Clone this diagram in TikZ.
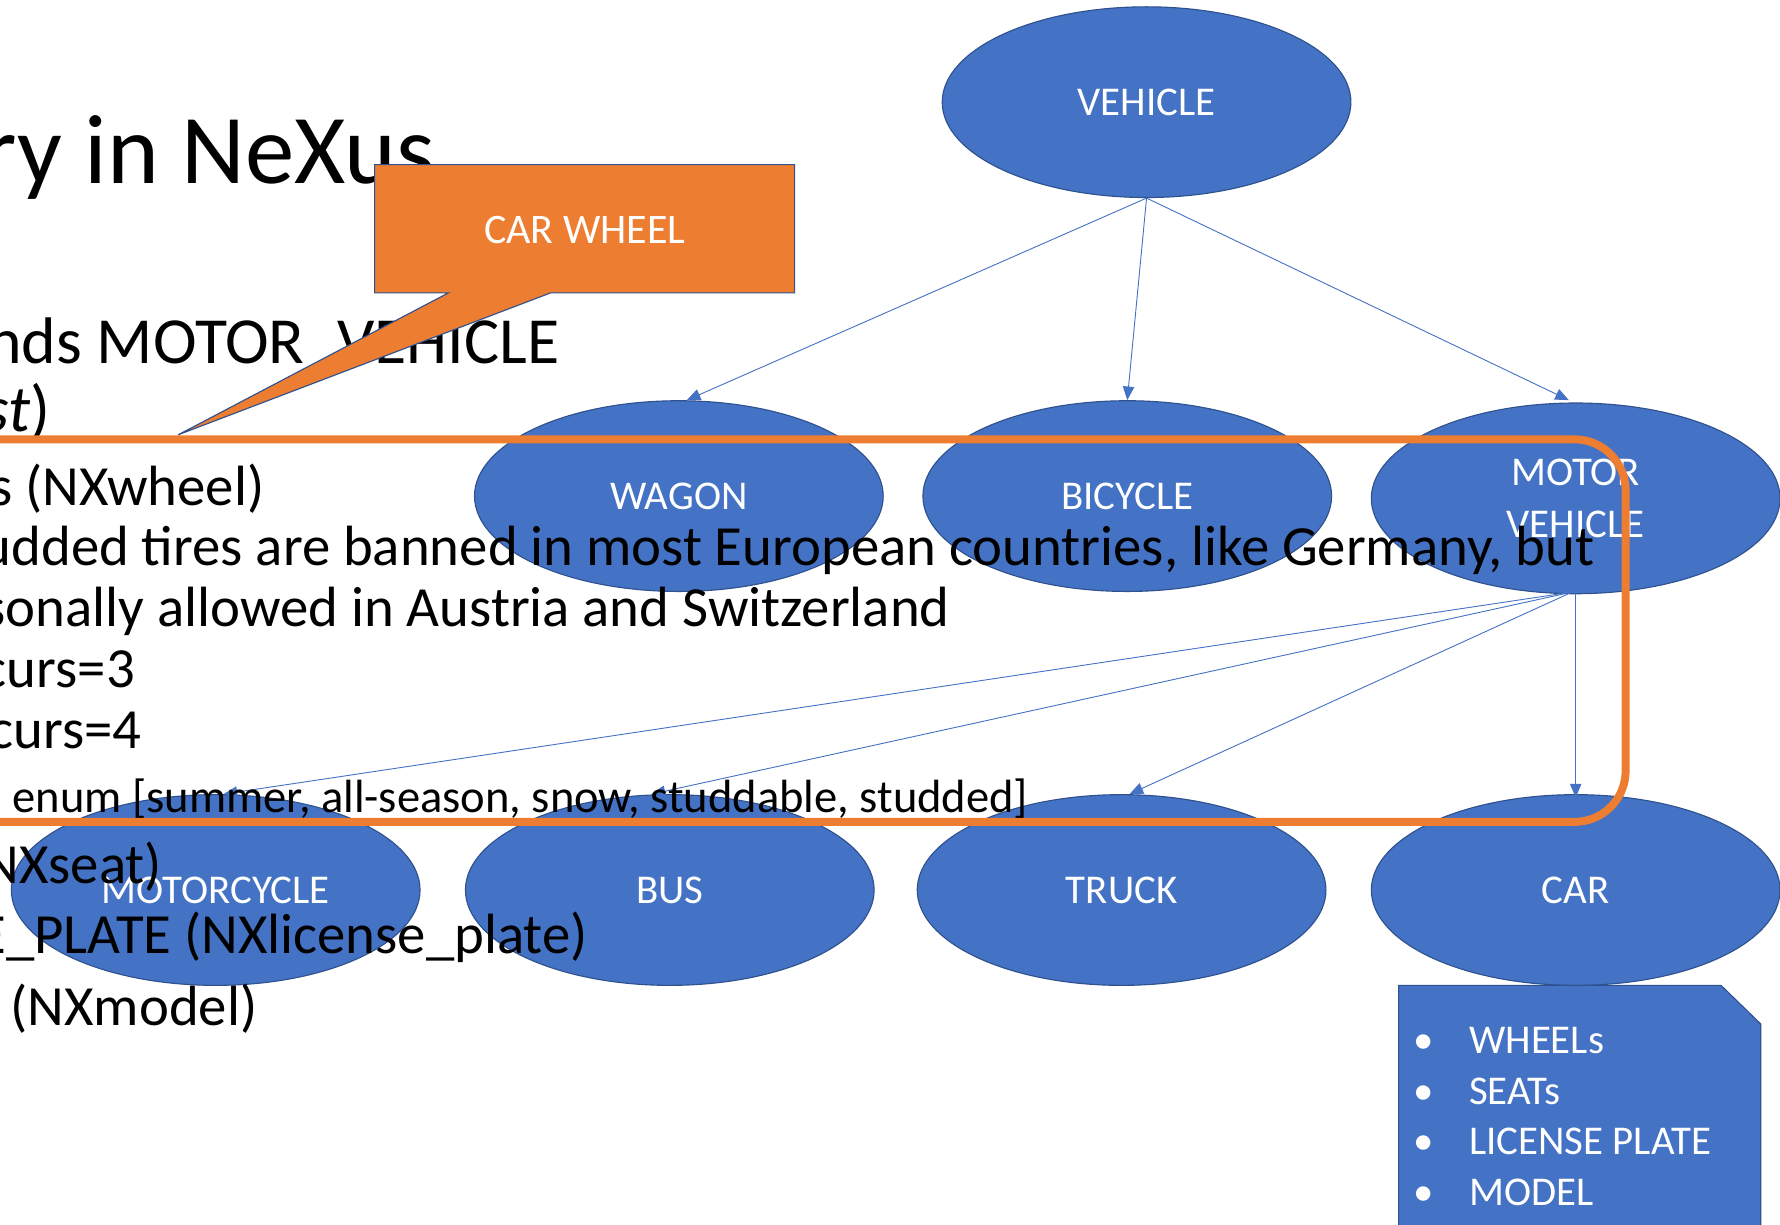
\documentclass[tikz,border=0pt]{standalone}
\usepackage{fontspec}
\setmainfont{Carlito}
\usetikzlibrary{shapes.geometric,arrows.meta}
\definecolor{nodeblue}{HTML}{4472C4}
\definecolor{edgeblue}{HTML}{2F528F}
\definecolor{accent}{HTML}{ED7D31}
\begin{document}
\begin{tikzpicture}[x=1pt,y=-1pt,
  cls/.style={ellipse, fill=nodeblue, draw=edgeblue, line width=1,
    minimum width=360, minimum height=168, inner sep=0, text=white,
    font=\fontsize{36}{45}\selectfont, align=center},
  inherit/.style={draw=nodeblue, line width=0.8, -{Triangle[length=12,width=10]}},
  body/.style={anchor=base east, inner sep=0, font=\fontsize{50}{54}\selectfont},
  level1/.style={anchor=base east, inner sep=0, font=\fontsize{58}{62}\selectfont},
  small/.style={anchor=base east, inner sep=0, font=\fontsize{41}{48}\selectfont},
  item/.style={anchor=base west, inner sep=0, text=white, font=\fontsize{36}{44}\selectfont},
]
\useasboundingbox (0,0) rectangle (1568,1079);
\clip (0,0) rectangle (1568,1079);

% class hierarchy
\node[cls] (vehicle)    at (1010,90)  {VEHICLE};
\node[cls] (wagon)      at (598,437)  {WAGON};
\node[cls] (bicycle)    at (993,437)  {BICYCLE};
\node[cls] (motorv)     at (1388,439) {MOTOR\\VEHICLE};
\node[cls] (motorcycle) at (190,784)  {MOTORCYCLE};
\node[cls] (bus)        at (590,784)  {BUS};
\node[cls] (truck)      at (988,784)  {TRUCK};
\node[cls] (car)        at (1388,784) {CAR};

\draw[inherit] (vehicle.south) -- ([xshift=7]wagon.north);
\draw[inherit] (vehicle.south) -- (bicycle.north);
\draw[inherit] (vehicle.south) -- ([xshift=-6,yshift=2]motorv.north);
\draw[inherit] ([xshift=-3,yshift=2]motorv.south) -- ([xshift=7]motorcycle.north);
\draw[inherit] ([xshift=-3,yshift=2]motorv.south) -- ([xshift=-16]bus.north);
\draw[inherit] ([xshift=-3,yshift=2]motorv.south) -- ([xshift=7]truck.north);
\draw[inherit] ([yshift=2]motorv.south) -- ([yshift=-3]car.north);

% slide text
\node[anchor=base east, inner sep=0, font=\fontsize{87}{96}\selectfont] (title) at (383,162) {ry in NeXus};
\node[level1] (l1) at (493,320) {nds MOTOR\_VEHICLE};
\node[level1] (l2) at (45,380)  {\textit{st})};
\node[body] (l3)  at (233,445) {s (NXwheel)};
\node[body] (l4)  at (1405,498) {udded tires are banned in most European countries, like Germany, but};
\node[body] (l5)  at (837,552) {sonally allowed in Austria and Switzerland};
\node[body] (l6)  at (119,606) {curs=3};
\node[body] (l7)  at (125,659) {curs=4};
\node[small] (l8) at (906,716) {enum [summer, all-season, snow, studdable, studded]};
\node[body] (l9)  at (143,778) {NXseat)};
\node[body] (l10) at (518,840) {E\_PLATE (NXlicense\_plate)};
\node[body] (l11) at (227,903) {L (NXmodel)};

% highlight frame
\draw[accent, line width=7, rounded corners=45] (-30,387) -- (1432,387) -- (1432,724) -- (-30,724);

% callout
\coordinate (tip) at (157,383);
\draw[fill=accent, draw=edgeblue, line width=1]
  (330,145) -- (700,145) -- (700,258) -- (485,258) -- (tip) -- (395,258) -- (330,258) -- cycle;
\node[text=white, font=\fontsize{37}{44}\selectfont] (callout) at (515,203) {CAR WHEEL};

% members of CAR
\draw[fill=nodeblue, draw=edgeblue, line width=1]
  (1232,1090) -- (1232,868) -- (1516,868) -- (1551,902) -- (1551,1090);
\foreach \t [count=\i] in {WHEELs, SEATs, LICENSE PLATE, MODEL} {
  \node[item] (b\i) at (1245,{928+44.7*(\i-1)}) {•};
  \node[item] (m\i) at (1294,{928+44.7*(\i-1)}) {\t};
}
\end{tikzpicture}
\end{document}
